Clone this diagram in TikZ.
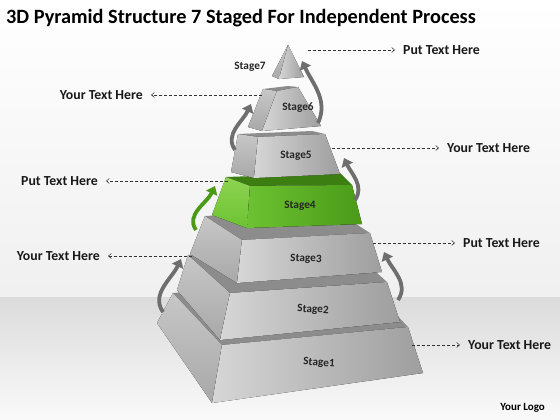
\documentclass[tikz,border=0pt]{standalone}
\usepackage{fontspec}
\setmainfont{Carlito}
\usetikzlibrary{arrows.meta}

\definecolor{grnfront}{HTML}{6CC232}
\definecolor{grndark}{HTML}{4A9A18}
\definecolor{grnside}{HTML}{8ED452}
\definecolor{grntop}{HTML}{3C7E12}
\definecolor{curvearr}{HTML}{6E6E6E}

\begin{document}
\begin{tikzpicture}[x=1pt,y=-1pt,
  front/.style={left color=black!16,right color=black!38},
  side/.style={top color=black!22,bottom color=black!34},
  topface/.style={fill=black!45},
  leader/.style={densely dashed,line width=0.5pt,black!80,-{Straight Barb[length=3pt,width=5pt]},shorten >=8pt},
  curve/.style={line width=3.8pt,curvearr,-{Triangle[length=8pt,width=12pt]}},
  stagetxt/.style={font=\bfseries\fontsize{11.3}{11.3}\selectfont,text=black!85,inner sep=0pt},
  sidetxt/.style={font=\bfseries\fontsize{13.8}{13.8}\selectfont,text=black!90,inner sep=0pt}]
\useasboundingbox (0,0) rectangle (560,420);

% wall and floor
\fill[top color=white,bottom color=black!6] (0,0) rectangle (560,297);
\fill[top color=black!14,bottom color=black!2] (0,297) rectangle (560,420);

\node[anchor=base west,inner sep=0pt,font=\bfseries\fontsize{20.3}{20.3}\selectfont] (title) at (6,24)
  {3D Pyramid Structure 7 Staged For Independent Process};

% stage 1
\fill[topface] (173,293) -- (222,345) -- (408,327) -- (359,275) -- cycle;
\fill[side] (173,293) -- (222,345) -- (212,403) -- (157,323) -- cycle;
\fill[front] (222,345) -- (408,327) -- (423,373) -- (212,403) -- cycle;
% stage 2
\fill[topface] (188,255) -- (230,293) -- (387,282) -- (345,244) -- cycle;
\fill[side] (188,255) -- (230,293) -- (220,340) -- (177,290) -- cycle;
\fill[front] (230,293) -- (387,282) -- (400,322) -- (220,340) -- cycle;
% stage 3
\fill[topface] (205,216) -- (242,240) -- (370,233) -- (333,209) -- cycle;
\fill[side] (205,216) -- (242,240) -- (237,283) -- (190,254) -- cycle;
\fill[front] (242,240) -- (370,233) -- (382,272) -- (237,283) -- cycle;
% stage 4
\fill[grntop] (226,177) -- (250,186) -- (352,185) -- (340,173) -- cycle;
\fill[top color=grnside,bottom color=grnfront] (226,177) -- (250,186) -- (247,228) -- (212,215) -- cycle;
\fill[left color=grnfront,right color=grndark] (250,186) -- (352,185) -- (362,224) -- (247,228) -- cycle;
% stage 5
\fill[topface] (238,134) -- (258,137) -- (325,134) -- (312,131) -- cycle;
\fill[side] (238,134) -- (258,137) -- (254,178) -- (231,172) -- cycle;
\fill[front] (258,137) -- (325,134) -- (340,174) -- (254,178) -- cycle;
% stage 6
\fill[topface] (263,89) -- (277,91) -- (298,87) -- (288,86) -- cycle;
\fill[side] (263,89) -- (277,91) -- (262,131) -- (248,127) -- cycle;
\fill[front] (277,91) -- (298,87) -- (321,126) -- (262,131) -- cycle;
% stage 7
\fill[side] (288,45) -- (279,79) -- (272,76) -- cycle;
\fill[front] (288,45) -- (304,77) -- (279,79) -- cycle;

\node[stagetxt,rotate=-4] (st1) at (319,363) {Stage1};
\node[stagetxt,rotate=-3] (st2) at (313,310) {Stage2};
\node[stagetxt,rotate=-2] (st3) at (306,259) {Stage3};
\node[stagetxt] (st4) at (300,206) {Stage4};
\node[stagetxt] (st5) at (296,156) {Stage5};
\node[stagetxt] (st6) at (298,108) {Stage6};
\node[stagetxt] (st7) at (250,67) {Stage7};

% curved arrows between stages
\coordinate (a1) at (163,312); \coordinate (b1) at (181,259);
\coordinate (a2) at (398,300); \coordinate (b2) at (384,252);
\coordinate (a3) at (196,230); \coordinate (b3) at (215,186);
\coordinate (a4) at (355,200); \coordinate (b4) at (344,158);
\coordinate (a5) at (235,150); \coordinate (b5) at (251,104);
\coordinate (a6) at (318,123); \coordinate (b6) at (302,61);
\draw[curve] (a1) to[out=125,in=245] (b1);
\draw[curve] (a2) to[out=55,in=-65] (b2);
\draw[curve,grndark] (a3) to[out=125,in=245] (b3);
\draw[curve] (a4) to[out=55,in=-65] (b4);
\draw[curve] (a5) to[out=125,in=245] (b5);
\draw[curve] (a6) to[out=65,in=-65] (b6);

% side texts
\node[sidetxt,anchor=west] (t7) at (403,50) {Put Text Here};
\node[sidetxt,anchor=east] (t6) at (143,95) {Your Text Here};
\node[sidetxt,anchor=west] (t5) at (447,148) {Your Text Here};
\node[sidetxt,anchor=east] (t4) at (98,181) {Put Text Here};
\node[sidetxt,anchor=west] (t3) at (463,243) {Put Text Here};
\node[sidetxt,anchor=east] (t2) at (100,256) {Your Text Here};
\node[sidetxt,anchor=west] (t1) at (468,345) {Your Text Here};

\coordinate (s7) at (308,50);
\coordinate (s6) at (262,95);
\coordinate (s5) at (332,148);
\coordinate (s4) at (228,181);
\coordinate (s3) at (373,243);
\coordinate (s2) at (192,256);
\coordinate (s1) at (412,345);
\draw[leader] (s7) -- (t7);
\draw[leader] (s6) -- (t6);
\draw[leader] (s5) -- (t5);
\draw[leader] (s4) -- (t4);
\draw[leader] (s3) -- (t3);
\draw[leader] (s2) -- (t2);
\draw[leader] (s1) -- (t1);

\node[anchor=east,inner sep=0pt,font=\bfseries\fontsize{11}{11}\selectfont] (logo) at (545,408) {Your Logo};
\end{tikzpicture}
\end{document}
